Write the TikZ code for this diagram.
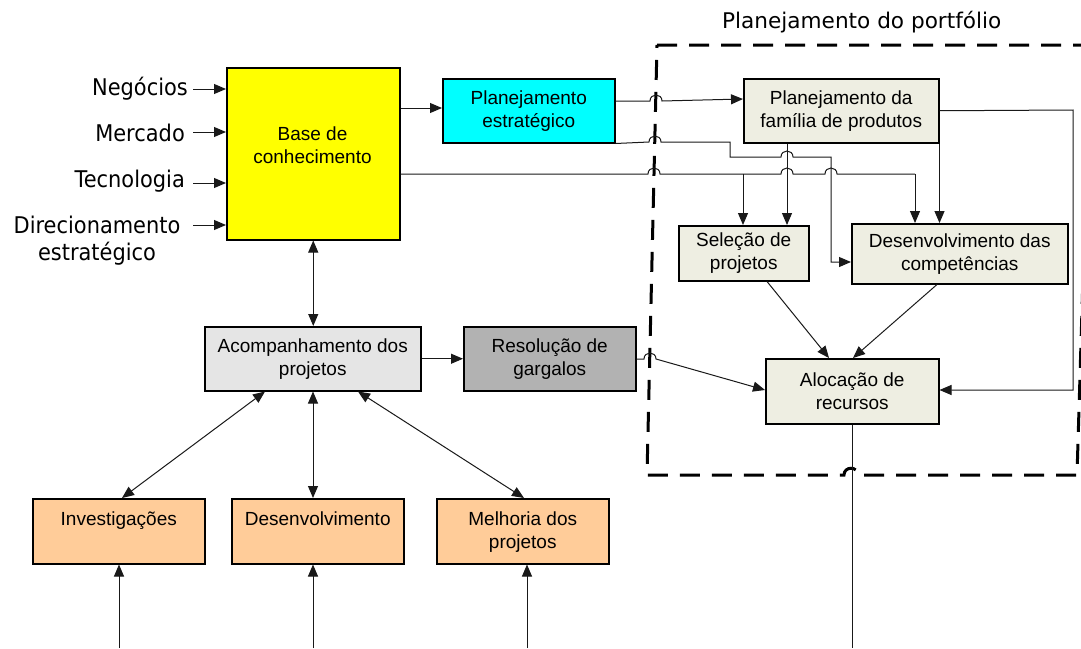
\documentclass[tikz,border=0pt]{standalone}
\usepackage{fontspec}
\setmainfont{Liberation Sans}
\newfontfamily\sidefont[FakeStretch=0.91]{DejaVu Sans}
\newfontfamily\titlefont{DejaVu Sans}
\usetikzlibrary{arrows.meta}

\definecolor{basefill}{RGB}{255,255,0}
\definecolor{stratfill}{RGB}{0,255,255}
\definecolor{pfill}{RGB}{238,238,226}
\definecolor{trackfill}{RGB}{229,229,229}
\definecolor{fixfill}{RGB}{178,178,178}
\definecolor{peachfill}{RGB}{255,204,153}
\definecolor{wirecol}{RGB}{25,25,25}

\begin{document}
\begin{tikzpicture}[x=1pt,y=-1pt,
  box/.style={draw=black, line width=1.5pt, inner sep=0pt, anchor=north west,
    align=center, font=\fontsize{19}{23}\selectfont},
  boxtext/.style={inner sep=0pt, align=center, font=\fontsize{19}{23}\selectfont},
  sidelabel/.style={inner sep=0pt, align=center, font=\sidefont\fontsize{23}{27}\selectfont},
  wire/.style={draw=wirecol, line width=1pt},
  arr/.style={wire, -{Triangle[length=12pt,width=10pt]}},
  darr/.style={wire, {Triangle[length=12pt,width=10pt]}-{Triangle[length=12pt,width=10pt]}},
  frame/.style={draw=black, line width=3pt, dash pattern=on 20pt off 12pt},
  jump/.style={to path={.. controls +(0,-8) and +(0,-8) .. (\tikztotarget)}},
]
\path[fill=white] (0,0) rectangle (1081,648);
\useasboundingbox (0,0) rectangle (1081,648);

% portfolio planning frame
\draw[frame] (657,45) -- (1090,45) -- (1077,475) -- (858,475)
  .. controls (858,466) and (844,466) .. (844,475) -- (647,475) -- cycle;
\node[inner sep=0pt, anchor=base west, font=\titlefont\fontsize{21.6}{25}\selectfont]
  (title) at (722,28) {Planejamento do portfólio};

% boxes
\node[box, fill=basefill, minimum width=173pt, minimum height=172pt] (base) at (226,67) {};
\node[boxtext] (basetext) at (312.5,145.5) {Base de\\conhecimento};
\node[box, fill=stratfill, minimum width=172pt, minimum height=64pt] (strat) at (442,78) {Planejamento\\estratégico};
\node[box, fill=pfill, minimum width=195pt, minimum height=64pt] (fam) at (743,78) {Planejamento da\\família de produtos};
\node[box, fill=pfill, minimum width=130pt, minimum height=55pt] (sel) at (678,225) {Seleção de\\projetos};
\node[box, fill=pfill, minimum width=216pt, minimum height=60pt] (comp) at (851,223) {Desenvolvimento das\\competências};
\node[box, fill=pfill, minimum width=173pt, minimum height=65pt] (aloc) at (765,358) {Alocação de\\recursos};
\node[box, fill=trackfill, minimum width=216pt, minimum height=64pt] (acomp) at (204,326) {Acompanhamento dos\\projetos};
\node[box, fill=fixfill, minimum width=172pt, minimum height=64pt] (res) at (463,326) {Resolução de\\gargalos};
\node[box, fill=peachfill, minimum width=172pt, minimum height=65pt] (inv) at (32,498) {};
\node[box, fill=peachfill, minimum width=172pt, minimum height=65pt] (dev) at (231,498) {};
\node[box, fill=peachfill, minimum width=172pt, minimum height=65pt] (mel) at (436,498) {};
\node[boxtext, anchor=north] (invtext) at (inv.north |- 0,512) {Investigações};
\node[boxtext, anchor=north] (devtext) at (dev.north |- 0,512) {Desenvolvimento};
\node[boxtext, anchor=north] (meltext) at (mel.north |- 0,512) {Melhoria dos\\projetos};

% inputs of the knowledge base
\node[sidelabel, anchor=base east] (neg) at (188,95) {Negócios};
\node[sidelabel, anchor=base east] (mer) at (185,141) {Mercado};
\node[sidelabel, anchor=base east] (tec) at (185,187) {Tecnologia};
\node[sidelabel, anchor=north] (dir) at (97,216) {Direcionamento\\estratégico};
\coordinate (negout) at (193,89);
\coordinate (merout) at (193,132);
\coordinate (tecout) at (193,183);
\coordinate (dirout) at (193,225);
\draw[arr] (negout) -- (base.west |- negout);
\draw[arr] (merout) -- (base.west |- merout);
\draw[arr] (tecout) -- (base.west |- tecout);
\draw[arr] (dirout) -- (base.west |- dirout);

% strategic planning links
\draw[arr] (base.east |- 0,108) -- (strat.west |- 0,108);
\draw[arr] (strat.east |- 0,101) -- (650,101) to[jump] (662,101) -- (fam.west |- 0,99);
\draw[arr] (strat.south east) -- (649,142) to[jump] (661,142) -- (730,142) -- (730,157)
  -- (781,157) to[jump] (793,157) -- (831,157) -- (831,262) -- (comp.west |- 0,262);

% knowledge base to portfolio
\coordinate (jsel) at (743,174);
\coordinate (jcomp) at (915,174);
\draw[wire] (base.east |- 0,174) -- (648,174) to[jump] (660,174) -- (781,174)
  to[jump] (793,174) -- (825,174) to[jump] (837,174) -- (jcomp);
\draw[arr] (jsel) -- (sel.north -| jsel);
\draw[arr] (jcomp) -- (comp.north -| jcomp);

% product family planning
\draw[arr] (fam.south -| 787,0) -- (sel.north -| 787,0);
\draw[arr] (fam.south east) -- (comp.north -| fam.south east);
\draw[arr] (fam.east) -- (1073,110) -- (1073,390) -- (aloc.east |- 0,390);

% resource allocation
\draw[arr] (sel.south -| 767,0) -- (aloc.north -| 829,0);
\draw[arr] (comp.south -| 937,0) -- (aloc.north -| 853,0);
\draw[arr] (res.east |- 0,359) -- (644,359) to[jump] (656,359) -- (aloc.west |- 0,390);
\coordinate (alocend) at (aloc.south |- 0,648);
\draw[wire] (aloc.south) -- (alocend);

% project tracking
\draw[darr] (base.south) -- (acomp.north -| base.south);
\draw[arr] (acomp.east) -- (res.west);
\draw[darr] (acomp.south -| 265,0) -- (inv.north -| 122,0);
\draw[darr] (acomp.south -| 313,0) -- (dev.north -| 313,0);
\draw[darr] (acomp.south -| 358,0) -- (mel.north -| 524,0);

% incoming lines from below
\coordinate (invin) at (119,648);
\coordinate (devin) at (313,648);
\coordinate (melin) at (527,648);
\draw[arr] (invin) -- (inv.south -| invin);
\draw[arr] (devin) -- (dev.south -| devin);
\draw[arr] (melin) -- (mel.south -| melin);
\end{tikzpicture}
\end{document}
